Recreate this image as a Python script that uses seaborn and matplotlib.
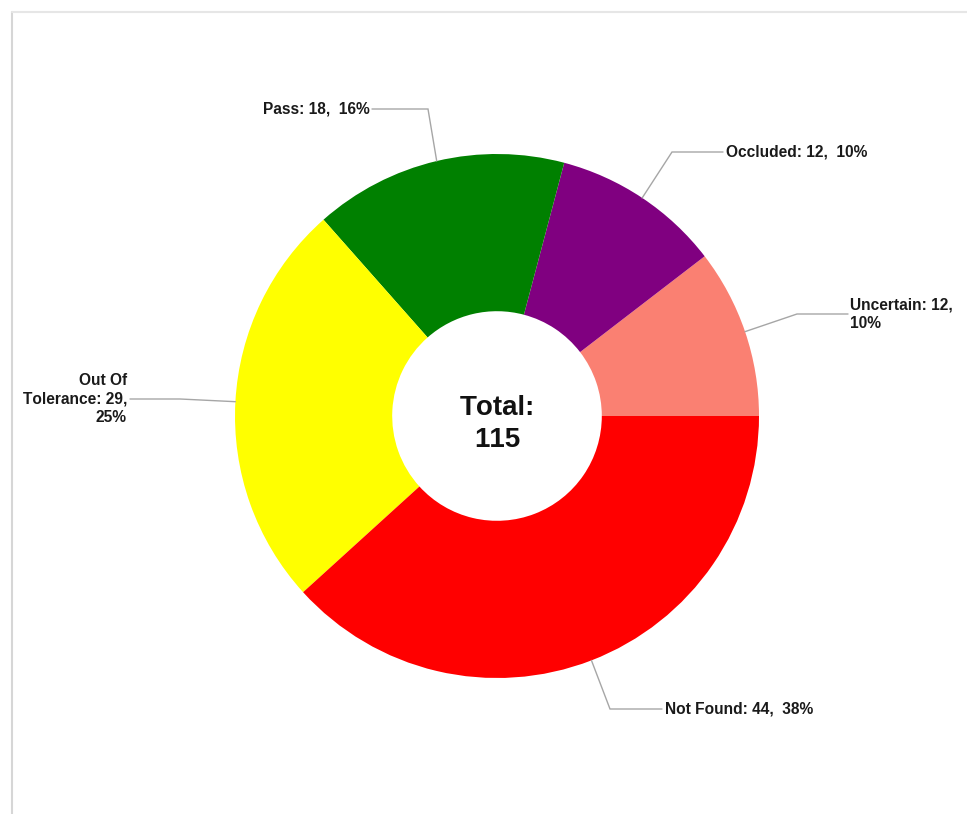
import numpy as np
import matplotlib
matplotlib.use("Agg")
import matplotlib.pyplot as plt
from matplotlib.lines import Line2D
import seaborn as sns

categories = ["Uncertain", "Occluded", "Pass", "Out Of Tolerance", "Not Found"]
values = [12, 12, 18, 29, 44]
colors = ["#FA8072", "#800080", "#008000", "#FFFF00", "#FF0000"]
label_text = ["Uncertain: 12,\n10%", "Occluded: 12,  10%", "Pass: 18,  16%",
              "Out Of\nTolerance: 29,\n25%", "Not Found: 44,  38%"]

sns.set_theme(style="white")
plt.rcParams['font.family'] = ['Liberation Sans', 'DejaVu Sans']
plt.rcParams['text.kerning_factor'] = 10

W, H = 967, 814
fig = plt.figure(figsize=(W / 100, H / 100), dpi=100)
ax = fig.add_axes([0, 0, 1, 1])
cx, cy, R = 497, 416, 262

wedges, _ = ax.pie(values, colors=colors, startangle=0, counterclock=True,
                   radius=1.0, wedgeprops=dict(width=0.6, edgecolor='none'))
ax.set_xlim(-cx / R, (W - cx) / R)
ax.set_ylim(-(H - cy) / R, cy / R)
ax.set_aspect('equal')
ax.axis('off')

ax.text(0, -0.03, "Total:\n115", ha='center', va='center', fontsize=20,
        fontweight='bold', color='#111111', linespacing=1.3)

# leader layout (pixel coords): elbow, end, text anchor, alignment
layout = {
    "Uncertain": ((797, 314), (848, 314), (850, 314), 'left'),
    "Occluded": ((672, 152), (723, 152), (726, 152), 'left'),
    "Pass": ((428, 109), (372, 109), (370, 109), 'right'),
    "Out Of Tolerance": ((180, 399), (130, 399), (127, 399), 'right'),
    "Not Found": ((610, 709), (662, 709), (665, 709), 'left'),
}

def p2d(p):
    return ((p[0] - cx) / R, (cy - p[1]) / R)

for w, cat, txt in zip(wedges, categories, label_text):
    ang = np.deg2rad((w.theta1 + w.theta2) / 2)
    x0, y0 = np.cos(ang), np.sin(ang)
    elbow, end, tpos, ha = layout[cat]
    e = p2d(elbow); en = p2d(end); t = p2d(tpos)
    ax.plot([x0, e[0], en[0]], [y0, e[1], en[1]], color='#a6a6a6', lw=1.0,
            solid_joinstyle='miter')
    ax.text(t[0], t[1], txt, ha=ha, va='center', fontsize=11.2,
            fontweight='bold', color='#1a1a1a', multialignment=ha,
            linespacing=1.3)

# frame lines
fx, fy = 12 / W, 1 - 12 / H
fig.add_artist(Line2D([fx, fx], [0, fy], transform=fig.transFigure,
                      color='#d6d6d6', lw=1.5))
fig.add_artist(Line2D([fx, 1], [fy, fy], transform=fig.transFigure,
                      color='#e6e6e6', lw=1.5))

fig.savefig("out.png", dpi=100, facecolor='white')
